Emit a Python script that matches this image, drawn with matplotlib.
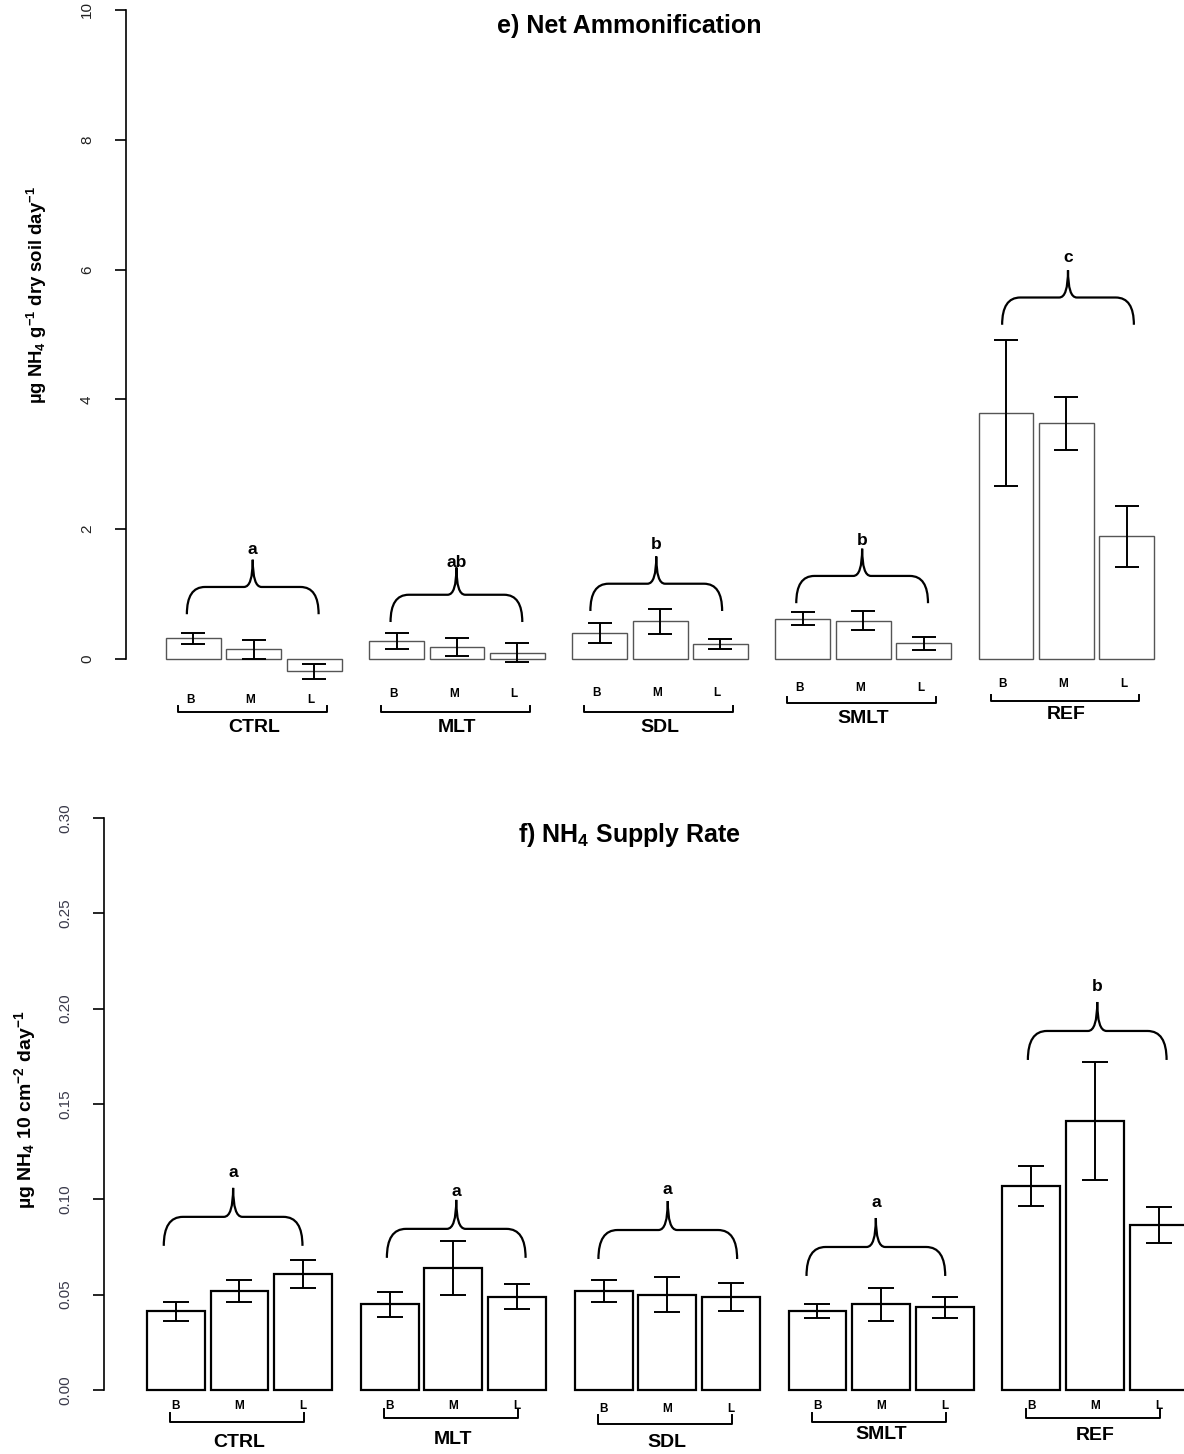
import numpy as np
import matplotlib
matplotlib.use("Agg")
import matplotlib.pyplot as plt
from matplotlib.path import Path
from matplotlib.patches import PathPatch

plt.rcParams['font.family'] = ['Liberation Sans', 'DejaVu Sans']
plt.rcParams['mathtext.fontset'] = 'custom'
plt.rcParams['mathtext.rm'] = 'Liberation Sans:bold'
plt.rcParams['mathtext.it'] = 'Liberation Sans:bold'
plt.rcParams['mathtext.bf'] = 'Liberation Sans:bold'

groups = ['CTRL', 'MLT', 'SDL', 'SMLT', 'REF']
sites = ['B', 'M', 'L']

# e) net ammonification (ug NH4 / g dry soil / day), mean and SE, B-M-L within each group
amm_mean = [0.32, 0.15, -0.19,
            0.28, 0.18, 0.10,
            0.40, 0.58, 0.23,
            0.62, 0.59, 0.24,
            3.79, 3.63, 1.89]
amm_se = [0.085, 0.145, 0.115,
          0.12, 0.14, 0.14,
          0.16, 0.19, 0.08,
          0.10, 0.15, 0.10,
          1.12, 0.41, 0.47]
amm_letters = ['a', 'ab', 'b', 'b', 'c']

# f) NH4 supply rate (ug NH4 / 10 cm2 / day)
supply_mean = [0.0412, 0.0520, 0.0610,
               0.0449, 0.0640, 0.0490,
               0.0520, 0.0500, 0.0488,
               0.0415, 0.0449, 0.0433,
               0.1070, 0.1410, 0.0866]
supply_se = [0.0050, 0.0058, 0.0073,
             0.0066, 0.0142, 0.0066,
             0.0058, 0.0092, 0.0073,
             0.0037, 0.0087, 0.0055,
             0.0105, 0.0310, 0.0094]
supply_letters = ['a', 'a', 'a', 'a', 'b']

# bar layout: width 1, 0.1 between bars, 0.5 between groups
GROUP_STEP = 3.7
BAR_STEP = 1.1
xpos = np.array([g * GROUP_STEP + i * BAR_STEP + 0.5 for g in range(5) for i in range(3)])
gcent = np.array([g * GROUP_STEP + 1.6 for g in range(5)])

# annotation placement (data units of each panel)
top_brace_x = [1.58, 5.29, 8.93, 12.68, 16.43]
top_brace_y = [0.69, 0.57, 0.74, 0.86, 5.15]
top_letter_y = [1.68, 1.48, 1.76, 1.82, 6.18]
top_site_y = [-0.63, -0.54, -0.52, -0.45, -0.39]
top_bracket_y = [-0.82, -0.82, -0.82, -0.68, -0.65]
top_name_y = [-1.06, -1.06, -1.05, -0.92, -0.86]

bot_brace_x = [1.49, 5.35, 9.01, 12.61, 16.44]
bot_brace_y = [0.0756, 0.0693, 0.0687, 0.0598, 0.1731]
bot_letter_y = [0.1139, 0.1039, 0.1049, 0.0981, 0.2114]
bot_site_y = [-0.0084, -0.0084, -0.0100, -0.0084, -0.0084]
bot_bracket_y = [-0.0168, -0.0147, -0.0178, -0.0168, -0.0147]
bot_name_y = [-0.0278, -0.0262, -0.0273, -0.0236, -0.0241]


def brace(ax, xc, halfw, y0, h, r1, r2, lw=1.6):
    xl, xr = xc - halfw, xc + halfw
    verts = [(xl, y0), (xl, y0 + h), (xl + r1, y0 + h),
             (xc - r2, y0 + h),
             (xc, y0 + h), (xc, y0 + 2 * h),
             (xc, y0 + h), (xc + r2, y0 + h),
             (xr - r1, y0 + h),
             (xr, y0 + h), (xr, y0)]
    codes = [Path.MOVETO, Path.CURVE3, Path.CURVE3,
             Path.LINETO,
             Path.CURVE3, Path.CURVE3,
             Path.CURVE3, Path.CURVE3,
             Path.LINETO,
             Path.CURVE3, Path.CURVE3]
    ax.add_patch(PathPatch(Path(verts, codes), fill=False, lw=lw,
                           edgecolor='black', clip_on=False))


def panel(ax, mean, se, letters, ylim, yticks, ticklabels, bar_ec, bar_lw,
          capsize, brace_x, brace_y, letter_y, brace_h, site_y, bracket_y,
          name_y, tick_h, brk, site_dx, name_size, tick_pad):
    ax.bar(xpos, mean, width=1.0, color='white', edgecolor=bar_ec,
           linewidth=bar_lw, zorder=2)
    ax.errorbar(xpos, mean, yerr=se, fmt='none', ecolor='black',
                elinewidth=1.4, capsize=capsize, capthick=1.4, zorder=3)
    ax.set_ylim(*ylim)
    for s in ['top', 'right', 'bottom']:
        ax.spines[s].set_visible(False)
    ax.spines['left'].set_bounds(yticks[0], yticks[-1])
    ax.spines['left'].set_linewidth(1.2)
    ax.set_xticks([])
    ax.set_yticks(yticks)
    ax.set_yticklabels(ticklabels, rotation=90, va='center', color='#222222',
                       fontsize=11)
    ax.tick_params(axis='y', length=8, width=1.2, pad=tick_pad)

    for g in range(5):
        brace(ax, brace_x[g], 1.2, brace_y[g], brace_h, 0.33, 0.16)
        ax.text(brace_x[g], letter_y[g], letters[g], ha='center', va='center',
                fontsize=12.5, fontweight='bold')
        for i in range(3):
            ax.text(xpos[g * 3 + i] + site_dx, site_y[g], sites[i], ha='center',
                    va='center', fontsize=8.5, fontweight='bold')
        x0 = g * GROUP_STEP + brk[0]
        x1 = g * GROUP_STEP + brk[1]
        yb = bracket_y[g]
        ax.plot([x0, x0, x1, x1], [yb + tick_h, yb, yb, yb + tick_h],
                color='black', lw=1.4, clip_on=False)
        ax.text(gcent[g], name_y[g], groups[g], ha='center', va='center',
                fontsize=name_size, fontweight='bold')


fig = plt.figure(figsize=(11.84, 14.54), dpi=100)

ax1 = fig.add_axes([126 / 1184, 1 - 745 / 1454, 1 - 126 / 1184, 735 / 1454])
ax1.set_xlim((126 - 166) / 54.9, (1184 - 166) / 54.9)
panel(ax1, amm_mean, amm_se, amm_letters, (-1.325, 10),
      [0, 2, 4, 6, 8, 10], ['0', '2', '4', '6', '8', '10'],
      '#555555', 1.0, 8.3, top_brace_x, top_brace_y, top_letter_y, 0.42,
      top_site_y, top_bracket_y, top_name_y, 0.09, (0.22, 2.93), -0.06, 14, 15)

ax2 = fig.add_axes([104 / 1184, 0.0, 1 - 104 / 1184, 636 / 1454])
ax2.set_xlim((104 - 147) / 57.8, (1184 - 147) / 57.8)
panel(ax2, supply_mean, supply_se, supply_letters, (-0.03358, 0.30),
      [0, 0.05, 0.10, 0.15, 0.20, 0.25, 0.30],
      ['0.00', '0.05', '0.10', '0.15', '0.20', '0.25', '0.30'],
      'black', 1.6, 9.4, bot_brace_x, bot_brace_y, bot_letter_y, 0.0152,
      bot_site_y, bot_bracket_y, bot_name_y, 0.0047, (0.40, 2.72), 0.0, 14, 14.5)
for lab in ax2.get_yticklabels():
    lab.set_color('#3a3a4a')

fig.text(629 / 1184, 1 - 26 / 1454, 'e) Net Ammonification', ha='center',
         va='center', fontsize=18, fontweight='bold')
fig.text(630 / 1184, 1 - 835 / 1454, 'f) NH$_4$ Supply Rate', ha='center',
         va='center', fontsize=18, fontweight='bold')

fig.text(37 / 1184, 1 - 295 / 1454, 'µg NH$_4$ g$^{-1}$ dry soil day$^{-1}$',
         rotation=90, ha='center', va='center', fontsize=13.3, fontweight='bold')
fig.text(25 / 1184, 1 - 1110 / 1454, 'µg NH$_4$ 10 cm$^{-2}$ day$^{-1}$',
         rotation=90, ha='center', va='center', fontsize=14, fontweight='bold')

fig.savefig('out.png', dpi=100, facecolor='white')
